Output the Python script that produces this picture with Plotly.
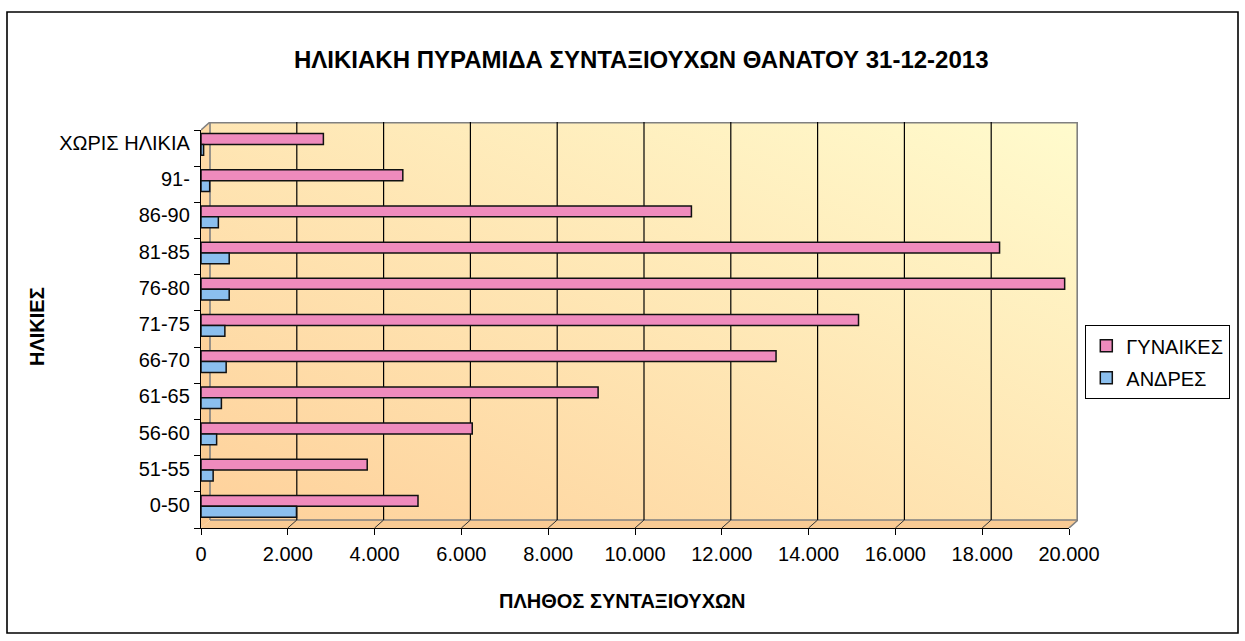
import base64

import plotly.graph_objects as go

# ---------------------------------------------------------------------------
# Data (bottom → top of the chart)
# ---------------------------------------------------------------------------
age_groups = ["0-50", "51-55", "56-60", "61-65", "66-70", "71-75",
              "76-80", "81-85", "86-90", "91-", "ΧΩΡΙΣ ΗΛΙΚΙΑ"]
women = [5000, 3830, 6250, 9150, 13250, 15150, 19900, 18400, 11300, 4650, 2820]
men = [2200, 280, 360, 470, 580, 550, 650, 650, 400, 200, 60]

x_ticks = list(range(0, 20001, 2000))

TITLE = "ΗΛΙΚΙΑΚΗ ΠΥΡΑΜΙΔΑ ΣΥΝΤΑΞΙΟΥΧΩΝ ΘΑΝΑΤΟΥ 31-12-2013"
FONT = "Liberation Sans, Arial, sans-serif"

# ---------------------------------------------------------------------------
# Pixel helpers: plot box runs 201..1078 (x) and 122..528 (y)
# ---------------------------------------------------------------------------
L, R, T, B = 201, 1078, 122, 528
W, H = R - L, B - T
DX, DY = 9, 8  # depth offset of the pseudo-3D back wall


def px(x):
    return (x - L) / W


def py(y):
    return (B - y) / H


# background walls as a small SVG (gradient back wall, side wall, floor)
svg = f"""<svg xmlns='http://www.w3.org/2000/svg' width='{W}' height='{H}'
 viewBox='0 0 {W} {H}' preserveAspectRatio='none'>
<defs>
 <linearGradient id='g' x1='0' y1='1' x2='1' y2='0'>
  <stop offset='0' stop-color='#FED19B'/><stop offset='1' stop-color='#FFFBCD'/>
 </linearGradient>
 <linearGradient id='s' x1='0' y1='0' x2='0' y2='1'>
  <stop offset='0' stop-color='#FFDCA8'/><stop offset='1' stop-color='#F9C890'/>
 </linearGradient>
</defs>
<rect x='{DX}' y='0' width='{W - DX}' height='{H - DY}' fill='url(#g)'/>
<polygon points='0,{DY} {DX},0 {DX},{H - DY} 0,{H}' fill='url(#s)'/>
<polygon points='0,{H} {W - DX},{H} {W},{H - DY} {DX},{H - DY}' fill='#F8CA94'/>
<polyline points='{DX},{H - DY} {DX},0.8 {W - 0.8},0.8 {W - 0.8},{H - DY} {DX},{H - DY}'
 fill='none' stroke='#808080' stroke-width='1.6'/>
<line x1='0' y1='{DY}' x2='{DX}' y2='0' stroke='#808080' stroke-width='1.6'/>
<line x1='{W - DX}' y1='{H}' x2='{W}' y2='{H - DY}' stroke='#808080' stroke-width='1.6'/>
</svg>"""
svg_uri = "data:image/svg+xml;base64," + base64.b64encode(svg.encode()).decode()

fig = go.Figure()

fig.add_trace(go.Bar(
    y=age_groups, x=women, orientation="h", name="ΓΥΝΑΙΚΕΣ",
    offset=0.1, width=0.3, legendgroup="w",
    marker=dict(color="#EF8BBD", line=dict(color="#111111", width=1.5)),
))
fig.add_trace(go.Bar(
    y=age_groups, x=men, orientation="h", name="ΑΝΔΡΕΣ",
    offset=-0.2, width=0.3, legendgroup="m",
    marker=dict(color="#8BBFEE", line=dict(color="#111111", width=1.5)),
))

shapes = []
# back-wall gridlines (shifted by the depth offset)
for v in x_ticks[1:-1]:
    shapes.append(dict(
        type="line", xref="x", xsizemode="pixel", xanchor=v, x0=DX, x1=DX,
        yref="paper", y0=py(B - DY), y1=1, layer="below",
        line=dict(color="#000000", width=1.2),
    ))
# small diagonal marks on the floor
for v in x_ticks[1:]:
    shapes.append(dict(
        type="line", xref="x", xsizemode="pixel", xanchor=v, x0=0, x1=DX,
        yref="paper", y0=0, y1=py(B - DY), layer="below",
        line=dict(color="#333333", width=1),
    ))
# outer chart border
shapes.append(dict(
    type="rect", xref="paper", yref="paper",
    x0=px(7), x1=px(1238), y0=py(633), y1=py(12),
    line=dict(color="#000000", width=1.6),
))

fig.update_layout(
    width=1245,
    height=641,
    autosize=False,
    margin=dict(l=L, r=1245 - R, t=T, b=641 - B),
    paper_bgcolor="#FFFFFF",
    plot_bgcolor="rgba(0,0,0,0)",
    barmode="overlay",
    separators=",.",
    font=dict(family=FONT, size=20, color="#000000"),
    showlegend=True,
    legend=dict(
        x=px(1085), y=py(325), xanchor="left", yanchor="top",
        bgcolor="#FFFFFF", bordercolor="#000000", borderwidth=1.3,
        font=dict(family=FONT, size=20), tracegroupgap=3,
    ),
    images=[dict(
        source=svg_uri, xref="paper", yref="paper", x=0, y=1,
        sizex=1, sizey=1, xanchor="left", yanchor="top",
        sizing="stretch", layer="below",
    )],
    shapes=shapes,
    annotations=[
        dict(text=TITLE, xref="paper", yref="paper", x=px(641), y=py(59),
             xanchor="center", yanchor="middle", showarrow=False,
             font=dict(size=24, weight="bold")),
        dict(text="ΠΛΗΘΟΣ ΣΥΝΤΑΞΙΟΥΧΩΝ", xref="paper", yref="paper",
             x=px(622), y=py(601), xanchor="center", yanchor="middle",
             showarrow=False, font=dict(size=20, weight="bold")),
        dict(text="ΗΛΙΚΙΕΣ", xref="paper", yref="paper", x=px(37), y=py(327),
             xanchor="center", yanchor="middle", showarrow=False,
             textangle=-90, font=dict(size=20, weight="bold")),
    ],
    hovermode="closest",
)

fig.update_xaxes(
    domain=[0, (W - DX) / W],
    range=[0, 20000],
    tickvals=x_ticks,
    tickformat=",d",
    ticks="outside", ticklen=6, tickcolor="#000000",
    showline=True, linecolor="#000000", linewidth=1.3,
    showgrid=False, zeroline=False,
    ticklabelstandoff=2,
)
fig.update_yaxes(
    domain=[0, (H - DY) / H],
    type="category",
    categoryorder="array", categoryarray=age_groups,
    range=[-0.5, len(age_groups) - 0.5],
    ticks="outside", tickson="boundaries", ticklen=6, tickcolor="#000000",
    showline=True, linecolor="#000000", linewidth=1.3,
    showgrid=False, zeroline=False,
    ticklabelstandoff=6, ticklabelshift=-5,
)

# drop the browser's default body margin so the figure sits at (0, 0)
fig.write_html(
    "out.html",
    config={"displayModeBar": False},
    post_script="document.body.style.margin='0';",
)
